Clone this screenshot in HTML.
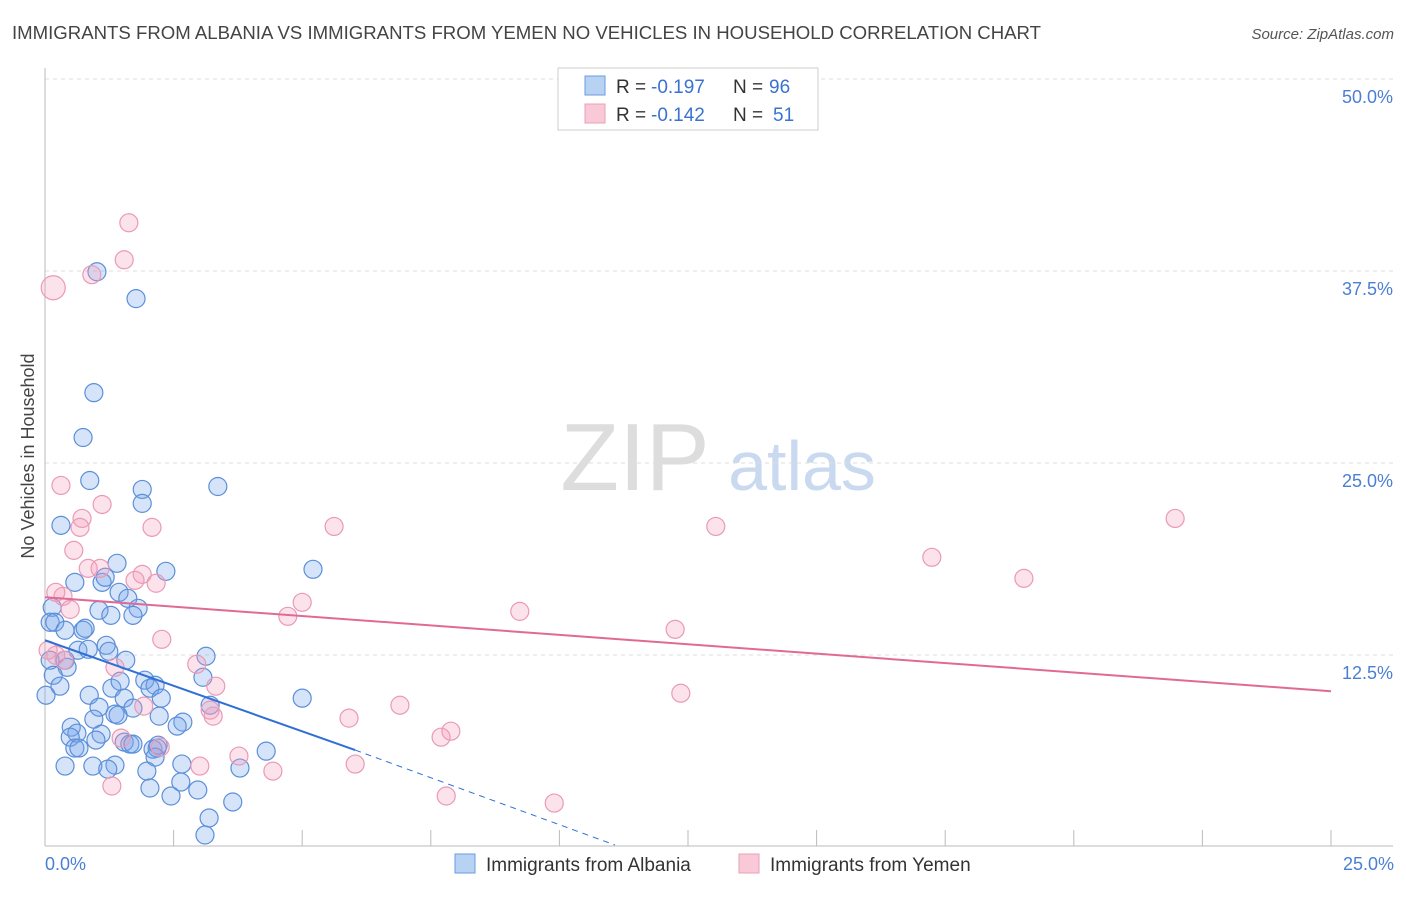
<!DOCTYPE html>
<html><head><meta charset="utf-8">
<style>
body{margin:0;background:#fff;font-family:"Liberation Sans",sans-serif;}
svg text{font-family:"Liberation Sans",sans-serif;}
</style></head>
<body>
<svg id="chart" width="1406" height="892" viewBox="0 0 1406 892" xmlns="http://www.w3.org/2000/svg">
<text x="12" y="39" font-size="18.6" fill="#444">IMMIGRANTS FROM ALBANIA VS IMMIGRANTS FROM YEMEN NO VEHICLES IN HOUSEHOLD CORRELATION CHART</text>
<text x="1394" y="39" font-size="15" fill="#555" font-style="italic" text-anchor="end">Source: ZipAtlas.com</text>
<g>
<text x="635" y="490" font-size="96" fill="#ddd" font-family="Liberation Serif,serif" text-anchor="middle">ZIP</text>
<text x="802" y="490" font-size="70" fill="#c9d9ef" text-anchor="middle">atlas</text>
</g>
<g id="grid"></g>
<g id="axes"></g>
<g id="pts"></g>
<g id="trends"></g>
<text transform="translate(34,456) rotate(-90)" font-size="18" fill="#444" text-anchor="middle">No Vehicles in Household</text>
<text x="45" y="870" font-size="18" fill="#4a7fd4">0.0%</text>
<text x="1394" y="870" font-size="18" fill="#4a7fd4" text-anchor="end">25.0%</text>
<g>
<rect x="558" y="68" width="260" height="62" fill="#fff" stroke="#ccc"/>
<rect x="585" y="76" width="20" height="19" fill="#b8d2f3" stroke="#6a9be0"/>
<rect x="585" y="104" width="20" height="19" fill="#f9c9d8" stroke="#ea9fb8"/>
<text x="616" y="93" font-size="19" fill="#333">R =</text>
<text x="651" y="93" font-size="19" fill="#3a72d0">-0.197</text>
<text x="733" y="93" font-size="19" fill="#333">N =</text>
<text x="769" y="93" font-size="19" fill="#3a72d0">96</text>
<text x="616" y="121" font-size="19" fill="#333">R =</text>
<text x="651" y="121" font-size="19" fill="#3a72d0">-0.142</text>
<text x="733" y="121" font-size="19" fill="#333">N =</text>
<text x="773" y="121" font-size="19" fill="#3a72d0">51</text>
</g>
<g>
<rect x="455" y="854" width="20" height="19" fill="#b8d2f3" stroke="#6a9be0"/>
<text x="486" y="871" font-size="19" fill="#333">Immigrants from Albania</text>
<rect x="739" y="854" width="20" height="19" fill="#f9c9d8" stroke="#ea9fb8"/>
<text x="770" y="871" font-size="19" fill="#333">Immigrants from Yemen</text>
</g>
</svg>
<script>
const yTicks=[12.5,25,37.5,50];
const yTickLabels=["12.5%","25.0%","37.5%","50.0%"];
const xTicks=[0,2.5,5,7.5,10,12.5,15,17.5,20,22.5,25];
const albaniaX=[1.01,1.77,0.95,0.74,0.87,1.89,1.89,3.36,0.31,1.40,2.35,5.21,0.58,1.11,1.17,1.44,1.61,1.81,1.05,1.28,1.71,0.14,0.10,0.19,0.39,0.74,0.78,1.19,1.24,0.64,0.84,0.39,0.43,1.57,3.13,0.10,0.16,0.29,0.02,0.86,1.30,1.46,1.94,2.14,2.04,2.26,1.54,1.05,1.71,3.07,3.21,5.00,0.95,1.36,1.42,2.22,0.51,0.62,0.49,2.68,2.57,1.09,0.99,1.54,1.65,1.71,0.58,0.66,2.10,2.18,2.20,4.30,2.14,0.39,0.93,1.36,1.22,2.66,1.98,3.79,2.64,2.04,2.45,2.97,3.65,3.19,3.11];
const albaniaY=[37.45,35.70,29.58,26.66,23.86,23.28,22.37,23.47,20.94,18.47,17.95,18.08,17.23,17.23,17.56,16.58,16.19,15.54,15.41,15.08,15.08,15.60,14.63,14.63,14.11,14.11,14.24,13.13,12.74,12.81,12.87,12.16,11.70,12.16,12.42,12.16,11.18,10.47,9.88,9.88,10.34,10.79,10.86,10.53,10.34,9.69,9.69,9.10,9.04,11.05,9.23,9.69,8.32,8.65,8.58,8.52,7.80,7.41,7.15,8.13,7.87,7.35,6.96,6.83,6.70,6.70,6.44,6.44,6.37,6.44,6.63,6.24,5.85,5.27,5.27,5.33,5.07,5.40,4.94,5.14,4.23,3.84,3.32,3.71,2.93,1.89,0.78];
const yemenX=[1.63,1.54,0.16,0.91,0.31,1.11,0.72,0.68,2.08,5.62,13.04,21.97,0.56,17.24,0.84,1.07,1.89,1.75,2.16,19.03,0.35,5.00,4.72,9.23,0.49,0.21,12.25,2.27,1.36,2.95,3.32,12.36,6.90,3.27,5.91,7.89,7.70,1.48,1.92,3.77,2.24,3.01,4.43,6.03,7.80,9.90,1.30,0.37,3.21,0.21,0.06];
const yemenY=[40.64,38.23,36.41,37.26,23.54,22.30,21.39,20.81,20.81,20.87,20.87,21.39,19.31,18.86,18.14,18.14,17.75,17.36,17.17,17.49,16.32,15.93,15.02,15.34,15.47,16.58,14.17,13.52,11.70,11.90,10.47,10.01,9.23,8.52,8.39,7.54,7.15,7.09,9.17,5.92,6.50,5.27,4.94,5.40,3.32,2.86,3.97,12.16,8.91,12.48,12.81];
const yemenSize=[9,9,12,9,9,9,9,9,9,9,9,9,9,9,9,9,9,9,9,9,9,9,9,9,9,9,9,9,9,9,9,9,9,9,9,9,9,9,9,9,9,9,9,9,9,9,9,9,9,9,9];
const albaniaTrend=[13.46,6.31];const albaniaTrendX=[0,6.03];const albaniaDashEnd=[11.08,0.13];
const yemenTrend=[16.26,10.14];const yemenTrendX=[0,25];

const X0=45,X1=1331,Y0=847,Y50=79;
const xs=v=>X0+v*(X1-X0)/25;
const ys=v=>Y0-v*(Y0-Y50)/50;
const NS="http://www.w3.org/2000/svg";
function mk(tag,attrs,parent){const e=document.createElementNS(NS,tag);for(const k in attrs)e.setAttribute(k,attrs[k]);parent.appendChild(e);return e;}
const grid=document.getElementById('grid'),axes=document.getElementById('axes'),pts=document.getElementById('pts'),tr=document.getElementById('trends');
yTicks.forEach((t,i)=>{
 const l=mk('line',{x1:45,x2:1393,y1:ys(t),y2:ys(t),stroke:'#ddd','stroke-dasharray':'4,4'},grid);
 
 
 const tx=mk('text',{x:1393,y:ys(t)+24,'font-size':18,fill:'#4a7fd4','text-anchor':'end'},grid);
 tx.textContent=yTickLabels[i];
 
 
});
const ax=mk('line',{x1:45,x2:1393,y1:846,y2:846,stroke:'#bbb'},axes);


const ay=mk('line',{x1:45,x2:45,y1:68,y2:846,stroke:'#bbb'},axes);


xTicks.forEach(t=>{
 const l=mk('line',{x1:xs(t),x2:xs(t),y1:830,y2:846,stroke:'#bbb'},axes);
 
 
});
albaniaX.forEach((x,i)=>{
 const c=mk('circle',{cx:xs(x),cy:ys(albaniaY[i]),r:9,fill:'rgba(120,165,235,0.3)',stroke:'#5b8fd9','stroke-width':1.2},pts);
 
 
});
yemenX.forEach((x,i)=>{
 const c=mk('circle',{cx:xs(x),cy:ys(yemenY[i]),r:yemenSize[i],fill:'rgba(245,160,190,0.3)',stroke:'#e99ab6','stroke-width':1.2},pts);
 
 
});
const bt=mk('line',{x1:xs(albaniaTrendX[0]),y1:ys(albaniaTrend[0]),x2:xs(albaniaTrendX[1]),y2:ys(albaniaTrend[1]),stroke:'#2f6fd6','stroke-width':2},tr);


const bd=mk('line',{x1:xs(albaniaTrendX[1]),y1:ys(albaniaTrend[1]),x2:xs(albaniaDashEnd[0]),y2:ys(albaniaDashEnd[1]),stroke:'#2f6fd6','stroke-width':1,'stroke-dasharray':'6,5'},tr);


const pt=mk('line',{x1:xs(yemenTrendX[0]),y1:ys(yemenTrend[0]),x2:xs(yemenTrendX[1]),y2:ys(yemenTrend[1]),stroke:'#e06a95','stroke-width':2},tr);


</script>
</body></html>
